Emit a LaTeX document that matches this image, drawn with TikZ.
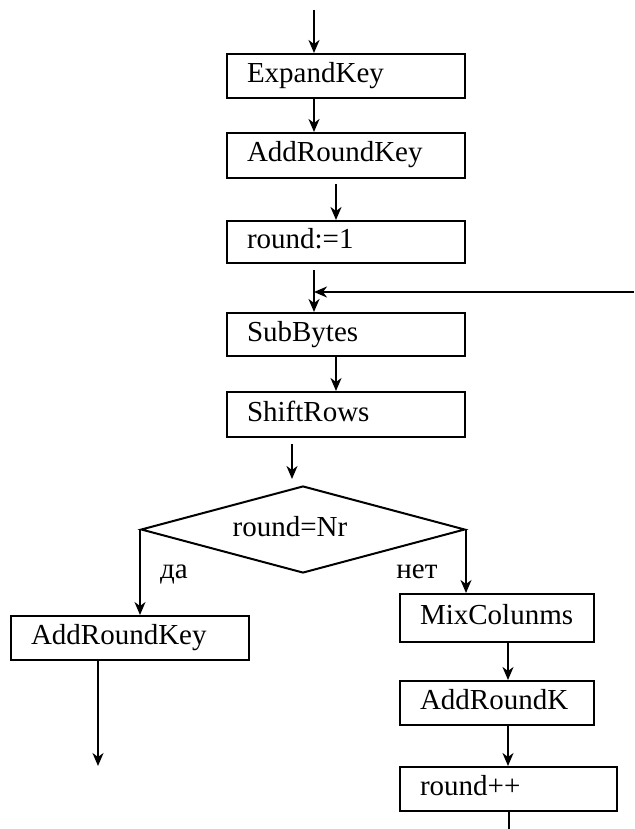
\documentclass[tikz,border=0pt]{standalone}
\usepackage{fontspec}
\setmainfont{Liberation Serif}
\usetikzlibrary{shapes.geometric,arrows.meta}
\begin{document}
\begin{tikzpicture}[x=1pt,y=-1pt,
  every node/.style={font=\fontsize{29}{34}\selectfont},
  stepbox/.style={draw, line width=2pt, rectangle, inner xsep=20pt, inner ysep=0pt,
    align=left, text height=20pt, text depth=7pt, minimum height=44pt},
  decision/.style={draw, line width=2pt, diamond, minimum width=324pt,
    minimum height=87pt, inner sep=0pt},
  flow/.style={line width=1.6pt, -{Stealth[length=13pt,width=11pt,inset=4pt]}},
  bold flow/.style={flow, line width=2.5pt},
  ]
\useasboundingbox (0,0) rectangle (634,829);

% main column
\node[stepbox, text width=198pt] (ek) at (346,76) {ExpandKey};
\node[stepbox, text width=198pt, minimum height=45pt] (ark1) at (346,155.5) {AddRoundKey};
\node[stepbox, text width=198pt, minimum height=42pt] (r1) at (346,242) {round:=1};
\node[stepbox, text width=198pt, minimum height=43pt] (sb) at (346,334.5) {SubBytes};
\node[stepbox, text width=198pt, minimum height=45pt] (sr) at (346,414.5) {ShiftRows};

% decision
\node[decision] (dec) at (303,529.5) {};
\node[anchor=base] (cond) at (290,536) {round=Nr};
\node[anchor=base] (yes) at (174,578) {да};
\node[anchor=base] (no) at (417,578) {нет};

% branches
\node[stepbox, text width=198pt] (ark2) at (130,638) {AddRoundKey};
\node[stepbox, text width=154pt, minimum height=48pt] (mc) at (497,618) {MixColunms};
\node[stepbox, text width=154pt] (ark3) at (497,703) {AddRoundK};
\node[stepbox, text width=177pt] (rpp) at (508.5,789) {round++};

% connector columns and free ends
\coordinate (cA) at (314,0);
\coordinate (cB) at (336,0);
\coordinate (cC) at (292,0);
\coordinate (cD) at (508,0);
\coordinate (start) at (314,10);
\coordinate (back) at (634,292);
\coordinate (endL) at (98,766);
\coordinate (endR) at (509,829);

\draw[flow] (start) -- (start |- ek.north);
\draw[bold flow] (ek.south -| cA) -- (ark1.north -| cA);
\draw[flow, shorten <=5pt] (ark1.south -| cB) -- (r1.north -| cB);
\draw[bold flow, shorten <=6pt] (r1.south -| cA) -- (sb.north -| cA);
\draw[flow] (back) -- (back -| cA);
\draw[flow] (sb.south -| cB) -- (sr.north -| cB);
\draw[flow, shorten <=6pt, shorten >=6pt] (sr.south -| cC) -- (dec.north -| cC);
\draw[flow] (dec.west) -- (dec.west |- ark2.north);
\draw[flow] (dec.east) -- (dec.east |- mc.north);
\draw[flow] (ark2.south -| endL) -- (endL);
\draw[flow] (mc.south -| cD) -- (ark3.north -| cD);
\draw[flow] (ark3.south -| cD) -- (rpp.north -| cD);
\draw[line width=1.6pt] (rpp.south -| endR) -- (endR);
\end{tikzpicture}
\end{document}
